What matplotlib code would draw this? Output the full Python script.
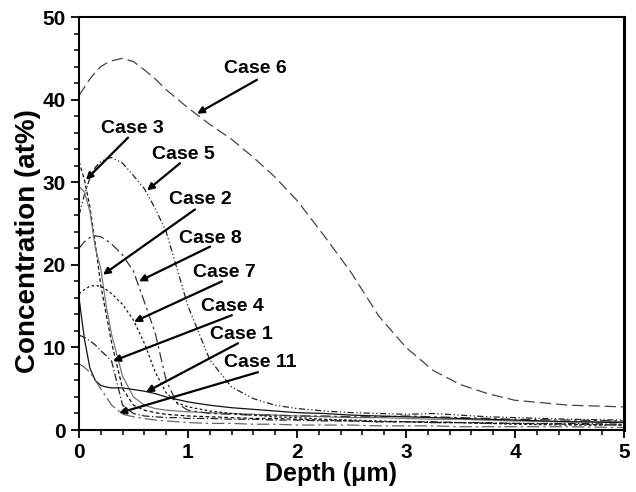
import matplotlib
matplotlib.use("Agg")
import matplotlib.pyplot as plt
from matplotlib.ticker import MultipleLocator

plt.rcParams['font.family'] = ['Liberation Sans', 'DejaVu Sans']

# depth grid (um) shared by all profiles
depth = [0, 0.05, 0.1, 0.15, 0.2, 0.25, 0.3, 0.4, 0.5, 0.6, 0.7, 0.8, 0.9, 1.0,
         1.2, 1.4, 1.6, 1.8, 2.0, 2.25, 2.5, 2.75, 3.0, 3.25, 3.5, 3.75, 4.0, 4.5, 5.0]

case6 = [40.5, 41.5, 42.5, 43.3, 44.0, 44.4, 44.7, 45.0, 44.6, 43.6, 42.5, 41.2, 40.1, 39.0,
         37.0, 35.2, 33.0, 30.6, 27.8, 23.5, 19.0, 13.8, 10.0, 7.2, 5.5, 4.4, 3.6, 3.0, 2.8]
case5 = [26.0, 28.5, 30.5, 31.8, 32.5, 32.8, 33.0, 32.3, 30.8, 29.2, 26.8, 24.0, 19.5, 15.0,
         8.5, 5.2, 3.8, 3.0, 2.6, 2.3, 2.1, 2.0, 1.9, 2.0, 1.8, 1.6, 1.5, 1.3, 1.2]
case3 = [32.5, 30.3, 27.0, 22.5, 17.5, 14.0, 10.5, 5.0, 3.0, 2.4, 2.1, 1.9, 1.8, 1.7,
         1.6, 1.5, 1.4, 1.4, 1.3, 1.2, 1.1, 1.0, 1.0, 0.9, 0.9, 0.8, 0.8, 0.7, 0.6]
case2 = [29.5, 28.8, 26.5, 22.0, 19.5, 15.0, 11.5, 6.5, 4.0, 3.0, 2.6, 2.4, 2.3, 2.2,
         2.1, 2.0, 1.9, 1.8, 1.7, 1.6, 1.5, 1.5, 1.4, 1.3, 1.3, 1.2, 1.1, 1.0, 1.0]
case8 = [22.0, 22.8, 23.3, 23.5, 23.4, 23.0, 22.5, 21.2, 19.2, 15.5, 11.7, 6.0, 3.2, 2.4,
         2.0, 1.9, 1.8, 1.8, 1.7, 1.7, 1.6, 1.6, 1.7, 1.6, 1.5, 1.4, 1.3, 1.2, 1.1]
case7 = [16.5, 17.0, 17.4, 17.5, 17.4, 17.0, 16.5, 15.2, 13.3, 10.5, 7.0, 4.5, 3.3, 2.8,
         2.3, 2.0, 1.8, 1.6, 1.5, 1.3, 1.2, 1.1, 1.0, 0.9, 0.9, 0.8, 0.7, 0.6, 0.6]
case4 = [11.5, 11.2, 10.8, 10.3, 9.6, 9.0, 8.3, 3.0, 2.0, 1.7, 1.6, 1.5, 1.5, 1.4,
         1.4, 1.3, 1.3, 1.2, 1.2, 1.1, 1.1, 1.0, 1.0, 1.0, 0.9, 0.9, 0.8, 0.8, 0.7]
case1 = [16.0, 11.0, 7.5, 6.0, 5.4, 5.2, 5.1, 5.1, 4.9, 4.7, 4.4, 4.0, 3.7, 3.4,
         3.0, 2.7, 2.5, 2.3, 2.1, 2.0, 1.8, 1.7, 1.6, 1.5, 1.4, 1.3, 1.2, 1.0, 0.9]
case11 = [8.0, 7.6, 7.0, 6.0, 5.0, 4.0, 3.0, 1.9, 1.6, 1.4, 1.2, 1.1, 1.0, 0.9,
          0.8, 0.8, 0.7, 0.7, 0.6, 0.6, 0.6, 0.5, 0.5, 0.5, 0.4, 0.4, 0.4, 0.4, 0.3]

labels = ["Case 6", "Case 3", "Case 5", "Case 2", "Case 8", "Case 7", "Case 4", "Case 1", "Case 11"]
series = [case6, case3, case5, case2, case8, case7, case4, case1, case11]

styles = [
    ("#444444", (0, (9, 4))),
    ("#111111", (0, (3, 2))),
    ("#222222", (0, (5, 2, 1, 2, 1, 2))),
    ("#777777", "-"),
    ("#333333", (0, (8, 3, 2, 3))),
    ("#111111", (0, (2, 2))),
    ("#222222", (0, (6, 2, 1, 2))),
    ("#111111", "-"),
    ("#666666", (0, (10, 3, 2, 3))),
]

# text centre, arrow start, arrow tip (data coords)
annot = {
    "Case 6": ((1.62, 43.8), (1.633, 42.4), (1.083, 38.3)),
    "Case 3": ((0.486, 36.5), (0.45, 35.4), (0.064, 30.3)),
    "Case 5": ((0.954, 33.4), (0.927, 32.3), (0.624, 29.0)),
    "Case 2": ((1.11, 27.9), (1.064, 26.7), (0.22, 18.8)),
    "Case 8": ((1.202, 23.2), (1.202, 22.2), (0.55, 18.0)),
    "Case 7": ((1.33, 19.1), (1.312, 18.0), (0.505, 13.1)),
    "Case 4": ((1.403, 15.0), (1.403, 13.9), (0.312, 8.35)),
    "Case 1": ((1.486, 11.6), (1.459, 10.5), (0.615, 4.6)),
    "Case 11": ((1.661, 8.2), (1.642, 7.0), (0.367, 2.06)),
}

fig = plt.figure(figsize=(6.36, 4.92), dpi=100)
ax = fig.add_axes([0.1242, 0.126, 0.8569, 0.8394])

for name, vals, (col, ls) in zip(labels, series, styles):
    ax.plot(depth, vals, color=col, linestyle=ls, linewidth=0.9)

for name in labels:
    txt, start, tip = annot[name]
    ax.text(txt[0], txt[1], name, ha="center", va="center",
            fontsize=14, fontweight="bold")
    ax.annotate("", xy=tip, xytext=start,
                arrowprops=dict(arrowstyle="-|>", color="black", lw=1.6,
                                mutation_scale=10, shrinkA=0, shrinkB=0))

ax.set_xlim(0, 5)
ax.set_ylim(0, 50)
ax.xaxis.set_major_locator(MultipleLocator(1))
ax.xaxis.set_minor_locator(MultipleLocator(0.2))
ax.yaxis.set_major_locator(MultipleLocator(10))
ax.yaxis.set_minor_locator(MultipleLocator(2))
ax.tick_params(which="major", direction="out", length=6, width=1.3,
               labelsize=15, top=False, right=False)
ax.tick_params(which="minor", direction="out", length=3.5, width=1.1,
               top=False, right=False)
for lab in ax.get_xticklabels() + ax.get_yticklabels():
    lab.set_fontweight("bold")
for side in ["left", "bottom", "top"]:
    ax.spines[side].set_linewidth(1.5)
ax.spines["right"].set_linewidth(2.2)

ax.set_xlabel("Depth (\u03bcm)", fontsize=18, fontweight="bold")
ax.set_ylabel("Concentration (at%)", fontsize=20, fontweight="bold")
ax.xaxis.set_label_coords(0.462, -0.078)
ax.yaxis.set_label_coords(-0.07, 0.457)

fig.savefig("out.png", dpi=100)
